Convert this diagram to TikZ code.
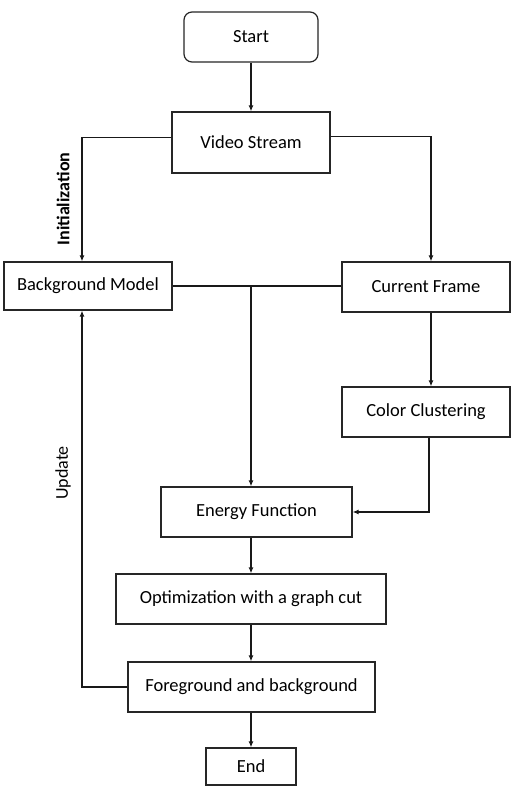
\documentclass[tikz,border=0pt]{standalone}
\usepackage{fontspec}
\setmainfont{Carlito}
\usetikzlibrary{arrows.meta}

\begin{document}
\begin{tikzpicture}[
  x=1pt, y=-1pt,
  box/.style={draw=black!85, line width=1.2pt, fill=white, inner sep=0pt, font=\fontsize{18.5}{22}\selectfont},
  terminal/.style={box, rounded corners=8pt},
  flow/.style={line width=1.5pt, black!90, -{Latex[length=6pt,width=5pt]}},
  link/.style={line width=1.5pt, black!90},
  lbl/.style={font=\fontsize{18}{22}\selectfont, rotate=90},
  >=latex
]
\useasboundingbox (0,0) rectangle (517,799);

% === Top: start and input ===
\node[terminal, minimum width=134pt, minimum height=50pt] (Start) at (251,37) {Start};
\node[box, minimum width=158pt, minimum height=61pt] (VS) at (251,142.5) {Video Stream};

% === Middle row ===
\node[box, minimum width=168pt, minimum height=48pt] (BM) at (88,286) {Background Model};
\node[box, minimum width=168pt, minimum height=50pt] (CF) at (426,287) {Current Frame};
\node[box, minimum width=168pt, minimum height=50pt] (CC) at (426,412) {Color Clustering};

% === Lower chain ===
\node[box, minimum width=191pt, minimum height=50pt] (EF) at (256.5,512) {Energy Function};
\node[box, minimum width=270pt, minimum height=50pt] (Opt) at (251,599) {Optimization with a graph cut};
\node[box, minimum width=247pt, minimum height=50pt] (FG) at (251.5,687) {Foreground and background};
\node[box, minimum width=90pt, minimum height=37pt, text depth=-4pt] (End) at (251,766.5) {End};

% Junction on the model/frame line
\coordinate (J) at (251,286);

% Connectors
\draw[flow] (Start) -- (VS);
\draw[flow] ([yshift=5pt]VS.west) -| ([xshift=-6pt]BM.north);
\draw[flow] ([yshift=6pt]VS.east) -| ([xshift=5pt]CF.north);
\draw[link] (BM.east) -- (BM.east -| CF.west);
\draw[flow] (J) -- (J |- EF.north);
\draw[flow] ([xshift=5pt]CF.south) -- ([xshift=5pt]CC.north);
\draw[flow] ([xshift=3pt]CC.south) |- (EF.east);
\draw[flow] (Opt.north |- EF.south) -- (Opt.north);
\draw[flow] (Opt.south) -- (Opt.south |- FG.north);
\draw[flow] (FG.west) -| ([xshift=-6pt]BM.south);
\draw[flow] (End.north |- FG.south) -- (End.north);

% Labels
\node[lbl, font=\fontsize{18}{22}\selectfont\bfseries] (Init) at (63,199) {Initialization};
\node[lbl] (Upd) at (63,473) {Update};

\end{tikzpicture}
\end{document}
